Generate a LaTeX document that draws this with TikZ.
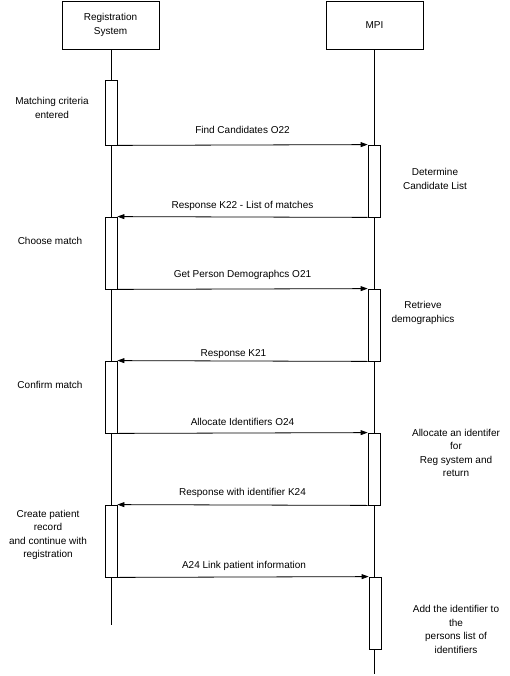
\documentclass[tikz,border=0pt]{standalone}
\usepackage{fontspec}
\setmainfont{Liberation Sans}
\usetikzlibrary{arrows.meta}
\begin{document}
\begin{tikzpicture}[x=1pt,y=-1pt,
  every node/.style={font=\fontsize{10}{13.5}\selectfont},
  actor/.style={draw,line width=0.8pt,fill=white,minimum width=97pt,minimum height=48pt,inner sep=0pt,align=center},
  act/.style={draw,line width=0.8pt,fill=white,minimum width=12pt,inner sep=0pt},
  life/.style={line width=0.8pt},
  msg/.style={line width=0.8pt,-{Triangle[length=7pt,width=5pt]},shorten >=0pt},
  lbl/.style={inner sep=0pt},
  note/.style={align=center,inner sep=0pt}]
\useasboundingbox (0,0) rectangle (510,676);
% actors
\node[actor] (reg) at (110.5,25) {Registration\\System};
\node[actor] (mpi) at (374.5,25) {MPI};
\coordinate (regend) at (111,625);
\coordinate (mpiend) at (374,674);
\draw[life] (reg.south -| regend) -- (regend);
\draw[life] (mpi.south -| mpiend) -- (mpiend);
% activations (left)
\node[act,minimum height=65pt] (a1) at (111,112.5) {};
\node[act,minimum height=72pt] (a2) at (111,253) {};
\node[act,minimum height=72pt] (a3) at (111,397) {};
\node[act,minimum height=72pt] (a4) at (111,541) {};
% activations (right)
\node[act,minimum height=72pt] (m1) at (374,181) {};
\node[act,minimum height=72pt] (m2) at (374,325) {};
\node[act,minimum height=72pt] (m3) at (374,469) {};
\node[act,minimum height=72pt] (m4) at (375,613) {};
% messages
\draw[msg] (a1.south east) -- node[lbl,midway,yshift=15pt] {Find Candidates O22} (m1.north west);
\draw[msg] (m1.south west) -- node[lbl,midway,yshift=11pt] {Response K22 - List of matches} (a2.north east);
\draw[msg] (a2.south east) -- node[lbl,midway,yshift=14pt] {Get Person Demographcs O21} (m2.north west);
\draw[msg] (m2.south west) -- node[lbl,midway,yshift=7pt,xshift=-9pt] {Response K21} (a3.north east);
\draw[msg] (a3.south east) -- node[lbl,midway,yshift=11pt] {Allocate Identifiers O24} (m3.north west);
\draw[msg] (m3.south west) -- node[lbl,midway,yshift=12pt] {Response with identifier K24} (a4.north east);
\draw[msg] (a4.south east) -- node[lbl,midway,yshift=11pt,xshift=1pt] {A24 Link patient information} (m4.north west);
% notes
\node[note] (n1) at (52,108) {Matching criteria\\entered};
\node[note] (n2) at (435,179) {Determine\\Candidate List};
\node[note] (n3) at (50,241) {Choose match};
\node[note] (n4) at (423,313) {Retrieve\\demographics};
\node[note] (n5) at (50,385) {Confirm match};
\node[note] (n6) at (456,453) {Allocate an identifer\\for\\Reg system and\\return};
\node[note] (n7) at (48,535) {Create patient\\record\\and continue with\\registration};
\node[note] (n8) at (456,629.5) {Add the identifier to\\the\\persons list of\\identifiers};
\end{tikzpicture}
\end{document}
